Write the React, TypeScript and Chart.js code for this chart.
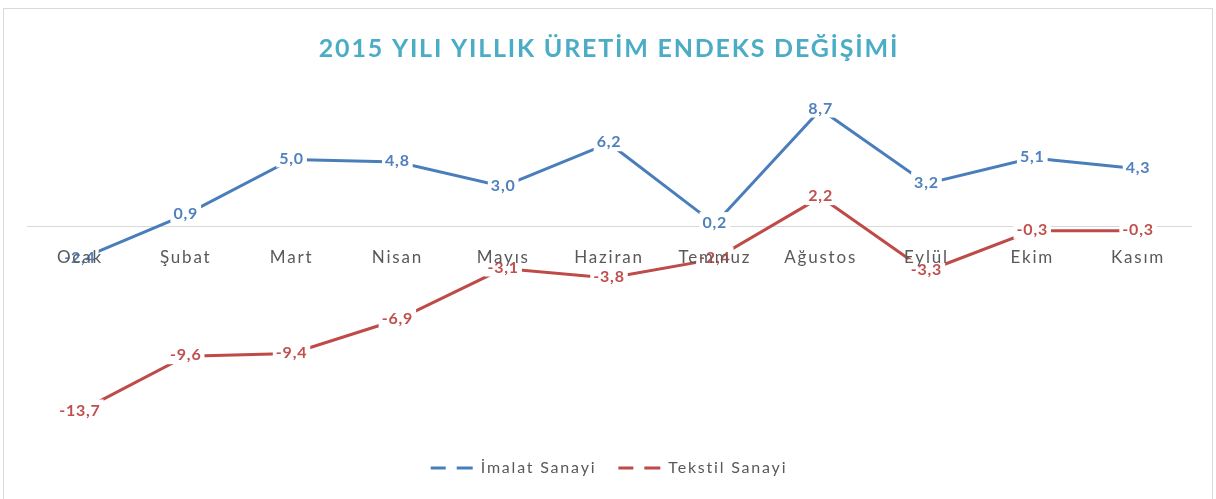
import React, { useEffect, useRef } from "react";
import { Chart, registerables } from "chart.js";

Chart.register(...registerables);

const months = ["Ocak", "Şubat", "Mart", "Nisan", "Mayıs", "Haziran", "Temmuz", "Ağustos", "Eylül", "Ekim", "Kasım"];
const imalat = [-2.4, 0.9, 5.0, 4.8, 3.0, 6.2, 0.2, 8.7, 3.2, 5.1, 4.3];
const tekstil = [-13.7, -9.6, -9.4, -6.9, -3.1, -3.8, -2.4, 2.2, -3.3, -0.3, -0.3];
const seriesNames = ["İmalat Sanayi", "Tekstil Sanayi"];
const titleText = "2015 YILI YILLIK ÜRETİM ENDEKS DEĞİŞİMİ";

const BLUE = "#4A7EBB";
const RED = "#BE4B48";
const BLUE_TXT = "#4F81BD";
const RED_TXT = "#C0504D";
const FONT = "Lato, 'Open Sans', sans-serif";
const SPACING = "1.8px";

const fmt = (v: number) => v.toFixed(1).replace(".", ",");

const frame = {
  id: "frame",
  beforeUpdate(chart: any) {
    chart.ctx.letterSpacing = SPACING;
  },
  beforeDraw(chart: any) {
    const ctx = chart.ctx;
    ctx.letterSpacing = SPACING;
    ctx.save();
    ctx.fillStyle = "#ffffff";
    ctx.fillRect(0, 0, chart.width, chart.height);
    ctx.strokeStyle = "#d9d9d9";
    ctx.lineWidth = 1;
    ctx.strokeRect(3.5, 8.5, chart.width - 7, chart.height + 10);
    ctx.restore();
  },
};

const dataLabels = {
  id: "dataLabels",
  afterDatasetsDraw(chart: any) {
    const ctx = chart.ctx;
    ctx.save();
    ctx.letterSpacing = "0.8px";
    ctx.font = `bold 16px ${FONT}`;
    ctx.textAlign = "center";
    ctx.textBaseline = "middle";
    chart.data.datasets.forEach((ds: any, di: number) => {
      const meta = chart.getDatasetMeta(di);
      meta.data.forEach((pt: any, i: number) => {
        const txt = fmt(ds.data[i]);
        const w = ctx.measureText(txt).width;
        const cy = pt.y - 2;
        ctx.fillStyle = "#ffffff";
        ctx.fillRect(pt.x - w / 2 - 3, cy - 10, w + 6, 20);
        ctx.fillStyle = di === 0 ? BLUE_TXT : RED_TXT;
        ctx.fillText(txt, pt.x, cy + 1);
      });
    });
    ctx.restore();
  },
};

export default function App() {
  const ref = useRef<HTMLCanvasElement>(null);
  useEffect(() => {
    document.body.style.margin = "0";
    const chart = new Chart(ref.current!, {
      type: "line",
      data: {
        labels: months,
        datasets: [
          { label: seriesNames[0], data: imalat, borderColor: BLUE, backgroundColor: BLUE, borderWidth: 3, pointRadius: 0, tension: 0 },
          { label: seriesNames[1], data: tekstil, borderColor: RED, backgroundColor: RED, borderWidth: 3, pointRadius: 0, tension: 0 },
        ],
      },
      options: {
        responsive: false,
        animation: false,
        layout: { padding: { left: 27, right: 25, top: 0, bottom: 13 } },
        scales: {
          x: {
            position: { y: 0 },
            offset: true,
            grid: { display: false },
            border: { display: true, color: "#d9d9d9", width: 1 },
            ticks: { z: 1, color: "#595959", font: { family: FONT, size: 17 }, padding: 13, maxRotation: 0, autoSkip: false },
          },
          y: {
            display: false,
            min: -15.67,
            max: 10.0,
          },
        },
        plugins: {
          title: {
            display: true,
            text: titleText,
            color: "#4BACC6",
            font: { family: FONT, size: 25, weight: "bold", lineHeight: 1.2 },
            padding: { top: 34, bottom: 28 },
          },
          legend: {
            position: "bottom",
            labels: {
              color: "#595959",
              font: { family: FONT, size: 16 },
              padding: 22,
              usePointStyle: true,
              pointStyleWidth: 42,
              boxHeight: 8,
              generateLabels(ch: any) {
                return ch.data.datasets.map((ds: any, i: number) => ({
                  text: ds.label,
                  fillStyle: ds.borderColor,
                  strokeStyle: ds.borderColor,
                  lineWidth: 3,
                  lineDash: [15, 11, 16],
                  pointStyle: "line",
                  fontColor: "#595959",
                  datasetIndex: i,
                  hidden: false,
                }));
              },
            },
          },
          tooltip: { enabled: false },
        },
      },
      plugins: [frame, dataLabels],
    });
    return () => chart.destroy();
  }, []);
  return <canvas ref={ref} width={1216} height={499} style={{ display: "block" }} />;
}
